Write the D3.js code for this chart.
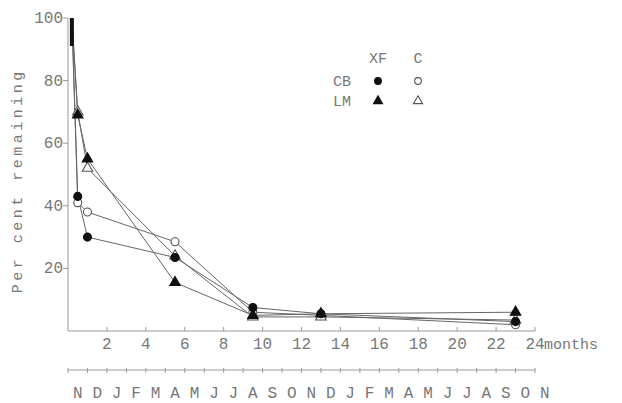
<!DOCTYPE html>
<html>
<head>
<meta charset="utf-8">
<script src="https://cdn.jsdelivr.net/npm/d3@7"></script>
<style>
  html, body { margin: 0; padding: 0; background: #fff; }
  svg { display: block; }
  text { font-family: "Liberation Mono", "DejaVu Sans Mono", monospace; fill: #777; }
</style>
</head>
<body>
<svg id="chart" width="622" height="403"></svg>
<script>
// sampling times (months after start)
const times = [0.2, 0.5, 1.0, 5.5, 9.5, 13, 23];

// per cent remaining
const cbXF = [100, 43, 30, 23.5, 7.5, 5.5, 3];
const cbC = [100, 41, 38, 28.5, 6, 5, 2];
const lmXF = [100, 69, 55, 15.5, 5, 5.5, 6];
const lmC = [100, 70, 52, 24, 4.5, 4.5, 3.5];

const yTicks = [20, 40, 60, 80, 100];
const xTicks = [2, 4, 6, 8, 10, 12, 14, 16, 18, 20, 22, 24];
const monthLetters = ["N", "D", "J", "F", "M", "A", "M", "J", "J", "A", "S", "O", "N",
  "D", "J", "F", "M", "A", "M", "J", "J", "A", "S", "O", "N"];

const series = [
  { name: "CB XF", values: cbXF, shape: "circle", filled: true },
  { name: "CB C", values: cbC, shape: "circle", filled: false },
  { name: "LM XF", values: lmXF, shape: "triangle", filled: true },
  { name: "LM C", values: lmC, shape: "triangle", filled: false }
];

const svg = d3.select("#chart");
const x = d3.scaleLinear().domain([0, 24]).range([68, 535]);
const y = d3.scaleLinear().domain([0, 100]).range([331, 18]);
const axisY0 = y(0);
const monthY = 370;

// axes
svg.append("line").attr("x1", x(0)).attr("x2", x(0)).attr("y1", y(100)).attr("y2", axisY0)
  .attr("stroke", "#999").attr("stroke-width", 1);
svg.append("line").attr("x1", x(0)).attr("x2", x(24)).attr("y1", axisY0).attr("y2", axisY0)
  .attr("stroke", "#999").attr("stroke-width", 1);

svg.append("g").selectAll("line").data(yTicks).join("line")
  .attr("x1", x(0) - 5).attr("x2", x(0)).attr("y1", (d) => y(d)).attr("y2", (d) => y(d))
  .attr("stroke", "#999");
svg.append("g").selectAll("text").data(yTicks).join("text")
  .attr("x", x(0) - 5).attr("y", (d) => y(d) + 5)
  .attr("text-anchor", "end").attr("font-size", 16)
  .text((d) => d);

svg.append("g").selectAll("line").data(xTicks).join("line")
  .attr("x1", (d) => x(d)).attr("x2", (d) => x(d)).attr("y1", axisY0).attr("y2", axisY0 - 4)
  .attr("stroke", "#999");
svg.append("g").selectAll("text").data(xTicks).join("text")
  .attr("x", (d) => x(d)).attr("y", axisY0 + 18)
  .attr("text-anchor", "middle").attr("font-size", 16)
  .text((d) => d);
svg.append("text").attr("x", x(24) + 9).attr("y", axisY0 + 18)
  .attr("font-size", 15).text("months");

// month axis
svg.append("line").attr("x1", x(0)).attr("x2", x(24)).attr("y1", monthY).attr("y2", monthY)
  .attr("stroke", "#999");
svg.append("g").selectAll("line").data(d3.range(25)).join("line")
  .attr("x1", (d) => x(d)).attr("x2", (d) => x(d)).attr("y1", monthY - 2).attr("y2", monthY + 3)
  .attr("stroke", "#999");
svg.append("g").selectAll("text").data(monthLetters).join("text")
  .attr("x", (d, i) => x(i + 0.5)).attr("y", monthY + 28)
  .attr("text-anchor", "middle").attr("font-size", 16)
  .text((d) => d);

// y label
svg.append("text")
  .attr("transform", `translate(22, ${y(48)}) rotate(-90)`)
  .attr("text-anchor", "middle").attr("font-size", 15).attr("letter-spacing", 3.5)
  .text("Per cent remaining");

// lines
const line = d3.line().x((d) => x(d[0])).y((d) => y(d[1]));
svg.append("g").selectAll("path").data(series).join("path")
  .attr("d", (s) => line(times.map((t, i) => [t, s.values[i]])))
  .attr("fill", "none").attr("stroke", "#666").attr("stroke-width", 1);

const circleSym = d3.symbol().type(d3.symbolCircle).size(50);
const triSym = d3.symbol().type(d3.symbolTriangle).size(48);
const circleSymSmall = d3.symbol().type(d3.symbolCircle).size(36);
const triSymSmall = d3.symbol().type(d3.symbolTriangle).size(36);

function drawMarker(g, shape, filled, cx, cy, small) {
  const sym = shape === "circle" ? (small ? circleSymSmall : circleSym) : (small ? triSymSmall : triSym);
  g.append("path")
    .attr("d", sym())
    .attr("transform", `translate(${cx},${cy})`)
    .attr("fill", filled ? "#111" : "#fff")
    .attr("stroke", filled ? "#111" : "#555")
    .attr("stroke-width", 1.1);
}

// open markers first, filled on top
const markers = svg.append("g");
[1, 3, 0, 2].forEach((k) => {
  const s = series[k];
  times.forEach((t, i) => {
    if (i === 0) return;
    drawMarker(markers, s.shape, s.filled, x(t), y(s.values[i]), false);
  });
});
// starting bar at 100
svg.append("rect").attr("x", x(times[0]) - 2).attr("y", y(100)).attr("width", 4).attr("height", 28)
  .attr("fill", "#111");

// legend
const legend = svg.append("g");
legend.append("text").attr("x", 378).attr("y", 63).attr("text-anchor", "middle").attr("font-size", 15).text("XF");
legend.append("text").attr("x", 418).attr("y", 63).attr("text-anchor", "middle").attr("font-size", 15).text("C");
legend.append("text").attr("x", 342).attr("y", 86).attr("text-anchor", "middle").attr("font-size", 15).attr("fill", "#999").text("CB");
legend.append("text").attr("x", 342).attr("y", 106).attr("text-anchor", "middle").attr("font-size", 15).attr("fill", "#999").text("LM");
series.forEach((s) => {
  const lx = s.filled ? 378 : 418;
  const ly = s.shape === "circle" ? 81 : 101;
  drawMarker(legend, s.shape, s.filled, lx, ly, true);
});
</script>
</body>
</html>
